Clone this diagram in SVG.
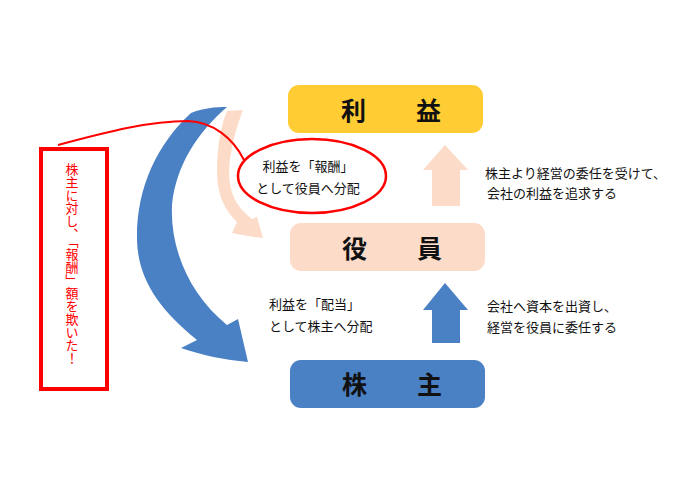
<svg xmlns="http://www.w3.org/2000/svg" width="700" height="500" viewBox="0 0 700 500">
  <style>
    text { font-family: "Noto Sans CJK JP", "Noto Sans", sans-serif; fill: #111; }
    .title { font-size: 25px; font-weight: bold; dominant-baseline: central; }
    .lbl { font-size: 13px; dominant-baseline: central; }
    .red { fill: #FF0000; font-size: 13px; }
    .peach { fill: #FCDCC8; }
    .blue { fill: #4A80C4; }
  </style>
  <rect width="700" height="500" fill="#FFFFFF"/>

  <g id="connectors">
    <!-- big blue curved arrow: profit to shareholders -->
    <path class="blue" d="M191,113 C203,108 215,107 227,107 C198,132 176,165 172,205 C170,250 190,295 227,325 L238,319 L248,362 C225,360 201,355 181,348 L197,340 C160,310 138,280 137,240 C136,190 156,145 191,113 Z"/>
    <!-- peach curved arrow: profit to officers -->
    <path class="peach" d="M227,111 L243,110 C236,128 230,150 229,172 C229,192 236,207 252,219 L257,217 L263,238 C252,237 242,235 232,233 L237,222 C224,210 217,193 217,172 C217,150 220,128 227,111 Z"/>
    <!-- up arrow officers to profit -->
    <path class="peach" d="M432,206 L432,170 L423,170 L445,145 L468,170 L460,170 L460,206 Z"/>
    <!-- up arrow shareholders to officers -->
    <path class="blue" d="M432,343 L432,310 L423,310 L445,283 L468,310 L460,310 L460,343 Z"/>
  </g>

  <g id="node-rieki">
    <rect x="288" y="85" width="195" height="48" rx="11" fill="#FFCC33"/>
    <text class="title" x="341" y="109">利　　益</text>
  </g>
  <g id="node-yakuin">
    <rect x="290" y="223" width="195" height="48" rx="11" fill="#FCDCC8"/>
    <text class="title" x="342" y="247">役　　員</text>
  </g>
  <g id="node-kabunushi">
    <rect x="290" y="360" width="195" height="48" rx="11" fill="#4A80C4"/>
    <text class="title" x="342" y="383">株　　主</text>
  </g>

  <g id="label-right-top">
    <text class="lbl" x="485" y="172">株主より経営の委任を受けて、</text>
    <text class="lbl" x="487" y="192">会社の利益を追求する</text>
  </g>
  <g id="label-right-bottom">
    <text class="lbl" x="487" y="305">会社へ資本を出資し、</text>
    <text class="lbl" x="487" y="326">経営を役員に委任する</text>
  </g>
  <g id="label-left">
    <text class="lbl" x="269" y="303">利益を「配当」</text>
    <text class="lbl" x="269" y="325">として株主へ分配</text>
  </g>

  <g id="callout">
    <path d="M58,145 C110,131 150,121 188,121 C213,122 233,138 244,160" fill="none" stroke="#FF0000" stroke-width="2"/>
    <rect x="41" y="149" width="66" height="240" fill="#FFFFFF" stroke="#FF0000" stroke-width="4"/>
    <text class="red" x="72" y="163" style="writing-mode: vertical-rl;">株主に対し、「報酬」額を欺いた！</text>
  </g>

  <g id="node-houshu">
    <ellipse cx="312" cy="176" rx="74" ry="37" fill="#FFFFFF" stroke="#FF0000" stroke-width="2.5"/>
    <text class="lbl" x="308" y="165" text-anchor="middle">利益を「報酬」</text>
    <text class="lbl" x="308" y="187" text-anchor="middle">として役員へ分配</text>
  </g>
</svg>
